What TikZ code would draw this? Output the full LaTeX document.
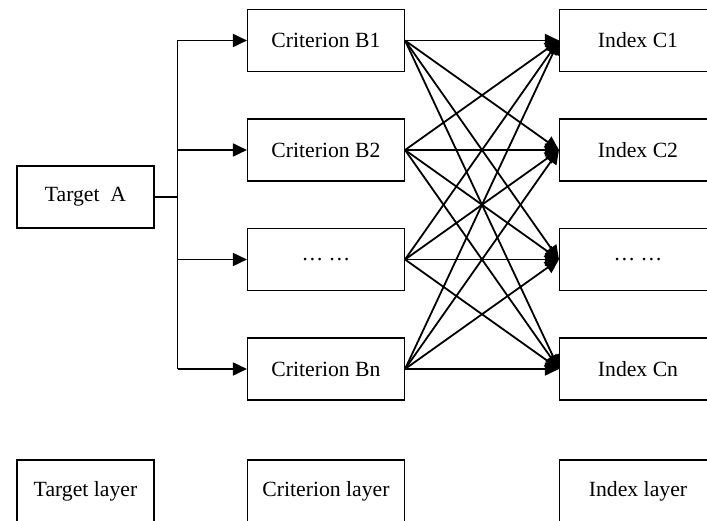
\documentclass[tikz,border=0pt]{standalone}
\usepackage{fontspec}
\setmainfont{Liberation Serif}
\usetikzlibrary{arrows.meta}
\begin{document}
\begin{tikzpicture}[x=1pt,y=-1pt,
  box/.style={draw, line width=1.5pt, inner sep=0pt, minimum height=62.4pt, font=\fontsize{21.7}{26}\selectfont},
  cbox/.style={box, minimum width=156.6pt},
  abox/.style={box, minimum width=137pt},
  conn/.style={line width=1.8pt},
  arr/.style={conn, -{Triangle[length=14pt,width=13pt]}}]
\useasboundingbox (0,0) rectangle (707,521);
\clip (0,0) rectangle (707,521);
\node[abox] (A) at (85.5,197) {Target\ \ A};
\node[cbox] (B1) at (326,40.5) {Criterion B1};
\node[cbox] (B2) at (326,150) {Criterion B2};
\node[cbox] (B3) at (326,259.5) {… …};
\node[cbox] (B4) at (326,369) {Criterion Bn};
\node[cbox] (C1) at (638,40.5) {Index C1};
\node[cbox] (C2) at (638,150) {Index C2};
\node[cbox] (C3) at (638,259.5) {… …};
\node[cbox] (C4) at (638,369) {Index Cn};
\node[abox] (L1) at (85.5,491) {Target layer};
\node[cbox] (L2) at (326,491) {Criterion layer};
\node[cbox] (L3) at (638,491) {Index layer};
\coordinate (J) at (177.5,197);
\draw[conn] (A.east) -- (J);
\draw[conn] (J |- B1.west) -- (J |- B4.west);
\foreach \b in {B1,B2,B3,B4}{
  \draw[arr] (J |- \b.west) -- (\b.west);
}
\foreach \b in {B1,B2,B3,B4}{
  \foreach \c in {C1,C2,C3,C4}{
    \draw[arr] (\b.east) -- (\c.west);
  }
}
\end{tikzpicture}
\end{document}
